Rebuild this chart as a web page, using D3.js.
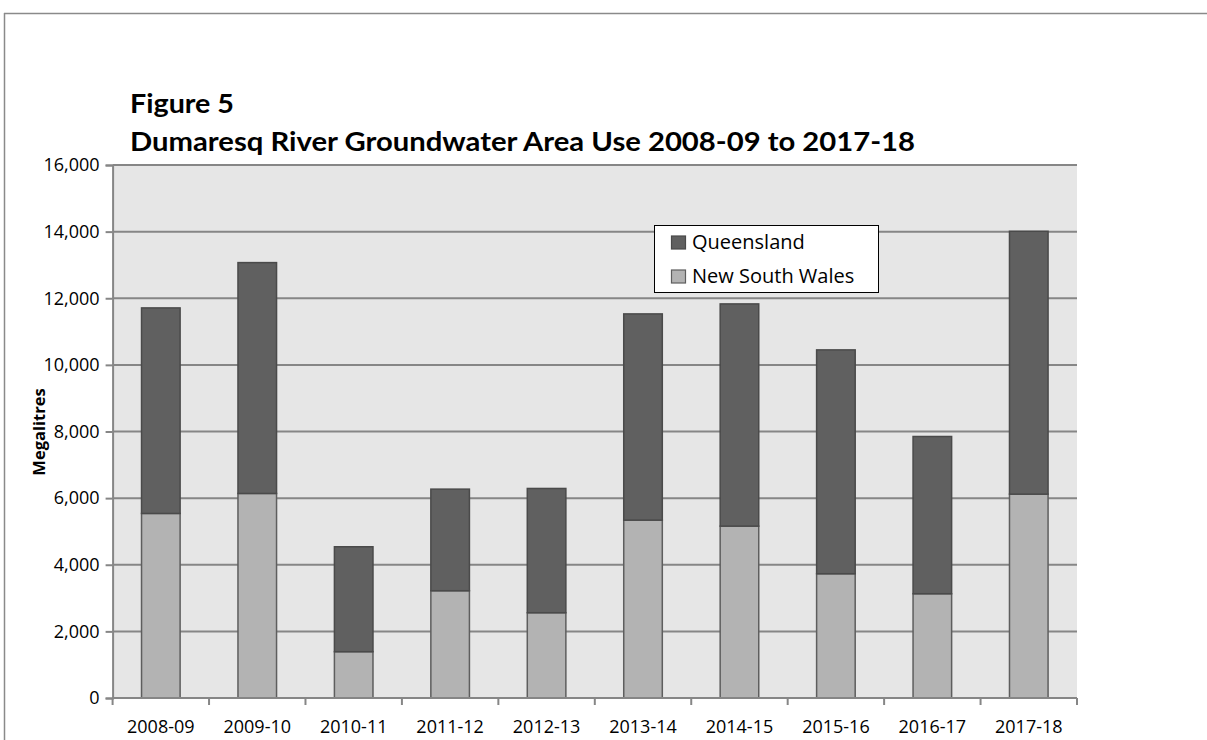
<!DOCTYPE html>
<html>
<head>
<meta charset="utf-8">
<script src="https://cdn.jsdelivr.net/npm/d3@7/dist/d3.min.js"></script>
<style>
  html, body { margin: 0; padding: 0; background: #ffffff; }
  svg { display: block; }
</style>
</head>
<body>
<script>
// ---- Data ----
const categories = ["2008-09", "2009-10", "2010-11", "2011-12", "2012-13", "2013-14", "2014-15", "2015-16", "2016-17", "2017-18"];
const newSouthWales = [5540, 6140, 1390, 3220, 2560, 5340, 5160, 3730, 3130, 6120];
const queensland = [6170, 6930, 3150, 3050, 3730, 6190, 6670, 6720, 4720, 7890];
const seriesNames = ["New South Wales", "Queensland"];
const yTicks = [0, 2000, 4000, 6000, 8000, 10000, 12000, 14000, 16000];
const titleLines = ["Figure 5", "Dumaresq River Groundwater Area Use 2008-09 to 2017-18"];
const yAxisTitle = "Megalitres";

// ---- Setup ----
const W = 1207, H = 740;
const svg = d3.select("body").append("svg").attr("width", W).attr("height", H);

const plot = { left: 112.6, right: 1077, top: 165, bottom: 698 };
const colors = { "Queensland": "#606060", "New South Wales": "#b3b3b3" };
const strokes = { "Queensland": "#4a4a4a", "New South Wales": "#5e5e5e" };

// outer frame lines
svg.append("line").attr("x1", 4).attr("x2", W).attr("y1", 13.5).attr("y2", 13.5)
  .attr("stroke", "#8a8a8a").attr("stroke-width", 1.5);
svg.append("line").attr("x1", 4.5).attr("x2", 4.5).attr("y1", 13).attr("y2", H)
  .attr("stroke", "#8a8a8a").attr("stroke-width", 1.5);

// titles
svg.append("text").attr("x", 130).attr("y", 113)
  .attr("font-family", "Lato, 'Open Sans', sans-serif").attr("font-weight", "bold")
  .attr("font-size", 26).attr("fill", "#000")
  .attr("textLength", 104).attr("lengthAdjust", "spacingAndGlyphs")
  .text(titleLines[0]);
svg.append("text").attr("x", 130).attr("y", 151)
  .attr("font-family", "Lato, 'Open Sans', sans-serif").attr("font-weight", "bold")
  .attr("font-size", 26).attr("fill", "#000")
  .attr("textLength", 785).attr("lengthAdjust", "spacingAndGlyphs")
  .text(titleLines[1]);

// scales
const x = d3.scaleBand().domain(categories).range([plot.left, plot.right])
  .paddingInner(0.6).paddingOuter(0.3);
const xSlot = d3.scaleBand().domain(categories).range([plot.left, plot.right]).padding(0);
const y = d3.scaleLinear().domain([0, 16000]).range([plot.bottom, plot.top]);

// plot background
svg.append("rect").attr("x", plot.left).attr("y", plot.top)
  .attr("width", plot.right - plot.left).attr("height", plot.bottom - plot.top)
  .attr("fill", "#e6e6e6");

// gridlines
svg.append("g").selectAll("line").data(yTicks.filter(d => d > 0)).join("line")
  .attr("x1", plot.left).attr("x2", plot.right)
  .attr("y1", d => y(d)).attr("y2", d => y(d))
  .attr("stroke", "#868686").attr("stroke-width", 2);

// y axis
const yAxis = d3.axisLeft(y).tickValues(yTicks).tickSize(7).tickPadding(6)
  .tickFormat(d3.format(","));
const gy = svg.append("g").attr("transform", `translate(${plot.left},0)`).call(yAxis);
gy.select(".domain").attr("stroke", "#868686").attr("stroke-width", 2);
gy.selectAll(".tick line").attr("stroke", "#868686").attr("stroke-width", 2);
gy.selectAll(".tick text").attr("font-family", "'Open Sans', sans-serif")
  .attr("font-size", 18).attr("fill", "#000");

// stacked data
const rows = categories.map((c, i) => ({ cat: c, "New South Wales": newSouthWales[i], "Queensland": queensland[i] }));
const stack = d3.stack().keys(seriesNames)(rows);

const gBars = svg.append("g");
stack.forEach(layer => {
  gBars.append("g").selectAll("rect").data(layer).join("rect")
    .attr("x", d => x(d.data.cat))
    .attr("width", x.bandwidth())
    .attr("y", d => y(d[1]))
    .attr("height", d => y(d[0]) - y(d[1]))
    .attr("fill", colors[layer.key])
    .attr("stroke", strokes[layer.key])
    .attr("stroke-width", 1.5);
});

// x axis
const gx = svg.append("g").attr("transform", `translate(0,${plot.bottom})`);
gx.append("line").attr("x1", plot.left).attr("x2", plot.right).attr("y1", 0).attr("y2", 0)
  .attr("stroke", "#868686").attr("stroke-width", 2);
const tickPos = categories.map(c => xSlot(c)).concat([plot.right]);
gx.selectAll("line.t").data(tickPos).join("line").attr("class", "t")
  .attr("x1", d => d).attr("x2", d => d).attr("y1", 0).attr("y2", 7)
  .attr("stroke", "#868686").attr("stroke-width", 2);
gx.selectAll("text").data(categories).join("text")
  .attr("x", d => xSlot(d) + xSlot.bandwidth() / 2)
  .attr("y", 35)
  .attr("text-anchor", "middle")
  .attr("font-family", "'Open Sans', sans-serif").attr("font-size", 18).attr("fill", "#000")
  .text(d => d);

// y-axis title
svg.append("text")
  .attr("transform", `translate(45,432) rotate(-90)`)
  .attr("text-anchor", "middle")
  .attr("font-family", "'Open Sans', sans-serif").attr("font-weight", "bold")
  .attr("font-size", 16.5).attr("fill", "#000")
  .text(yAxisTitle);

// legend
const lg = svg.append("g");
lg.append("rect").attr("x", 654.5).attr("y", 225.5).attr("width", 224).attr("height", 67)
  .attr("fill", "#fff").attr("stroke", "#000").attr("stroke-width", 1);
const legendItems = ["Queensland", "New South Wales"];
legendItems.forEach((k, i) => {
  const yy = 236 + i * 34;
  lg.append("rect").attr("x", 671.5).attr("y", yy).attr("width", 14).attr("height", 13)
    .attr("fill", colors[k]).attr("stroke", strokes[k]).attr("stroke-width", 1.2);
  lg.append("text").attr("x", 692).attr("y", yy + 13)
    .attr("font-family", "'Open Sans', sans-serif").attr("font-size", 20).attr("fill", "#000")
    .text(k);
});
</script>
</body>
</html>
